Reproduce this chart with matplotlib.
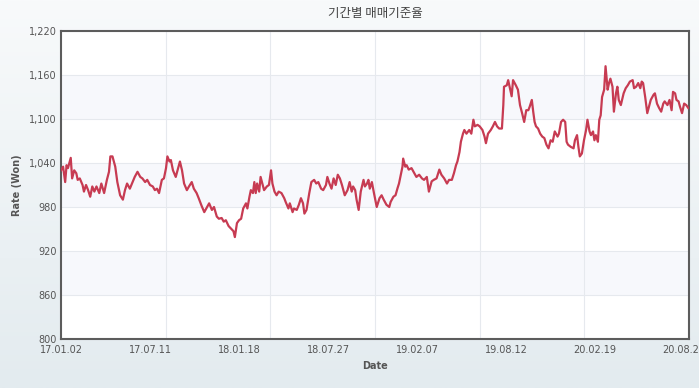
import numpy as np
import matplotlib
matplotlib.use("Agg")
import matplotlib.pyplot as plt
from matplotlib.ticker import FixedLocator, FuncFormatter

# ---- data (100 JPY / KRW trading rate) ----
day_index = [0, 3, 6, 8, 10, 14, 16, 19, 22, 24, 27, 31, 33, 36, 39, 42, 45, 48, 51, 55,
             58, 62, 66, 69, 71, 74, 78, 81, 85, 89, 92, 95, 99, 103, 106, 110, 114, 117, 121, 124,
             128, 132, 135, 138, 141, 145, 148, 151, 153, 156, 158, 161, 165, 169, 171, 174, 177, 181, 184, 188,
             191, 195, 198, 202, 206, 210, 213, 217, 220, 224, 227, 231, 234, 237, 241, 244, 248, 250, 253, 256,
             259, 262, 266, 268, 271, 273, 276, 278, 280, 282, 285, 287, 289, 292, 296, 299, 302, 304, 307, 310,
             313, 317, 321, 323, 327, 329, 333, 335, 339, 342, 345, 348, 350, 353, 357, 360, 364, 367, 370, 374,
             377, 381, 383, 386, 389, 392, 395, 398, 401, 404, 408, 412, 415, 418, 420, 423, 425, 428, 431, 435,
             437, 440, 442, 444, 447, 450, 454, 458, 461, 464, 468, 472, 474, 478, 481, 484, 486, 488, 491, 492,
             495, 497, 500, 504, 508, 511, 515, 519, 522, 526, 529, 533, 536, 540, 544, 547, 551, 555, 558, 562,
             565, 568, 570, 573, 575, 578, 580, 583, 587, 590, 593, 595, 599, 602, 606, 609, 611, 614, 618, 621,
             624, 627, 630, 634, 636, 637, 641, 643, 646, 648, 650, 654, 657, 660, 663, 666, 669, 672, 674, 677,
             679, 681, 683, 686, 689, 692, 695, 698, 701, 704, 707, 710, 714, 716, 719, 722, 725, 727, 729, 733,
             737, 739, 742, 744, 746, 749, 752, 755, 757, 760, 762, 765, 767, 769, 772, 774, 776, 778, 781, 783,
             786, 788, 790, 793, 795, 798, 800, 802, 805, 809, 812, 815, 818, 822, 824, 827, 830, 833, 835, 837,
             840, 843, 845, 848, 852, 854, 857, 860, 863, 866, 868, 872, 875, 878, 880, 883, 885, 888, 890, 893,
             896, 899, 902]
rate = [1030, 1035, 1014, 1037, 1033, 1047, 1019, 1030, 1026, 1017, 1019, 1010, 1001, 1010, 1003, 994, 1008, 1001, 1008, 999,
        1012, 999, 1017, 1028, 1049, 1049, 1035, 1014, 996, 990, 1003, 1012, 1005, 1014, 1021, 1028, 1021, 1019, 1014, 1017,
        1010, 1008, 1003, 1005, 999, 1017, 1019, 1033, 1049, 1042, 1044, 1030, 1021, 1035, 1042, 1030, 1012, 1003, 1008, 1014,
        1005, 999, 992, 982, 973, 980, 985, 976, 980, 967, 964, 965, 960, 962, 954, 951, 947, 939, 958, 962,
        964, 978, 985, 978, 994, 1003, 999, 1014, 999, 1012, 1001, 1021, 1014, 1003, 1008, 1010, 1030, 1012, 1001, 996,
        1001, 999, 992, 987, 978, 985, 973, 978, 976, 983, 992, 985, 971, 976, 999, 1014, 1017, 1012, 1014, 1005,
        1003, 1010, 1021, 1012, 1005, 1019, 1010, 1024, 1019, 1010, 996, 1003, 1014, 1001, 1008, 1003, 990, 976, 1001, 1017,
        1008, 1012, 1017, 1005, 1014, 999, 980, 992, 996, 990, 983, 980, 987, 994, 996, 1006, 1012, 1021, 1035, 1046,
        1035, 1037, 1031, 1033, 1026, 1021, 1024, 1019, 1017, 1021, 1001, 1015, 1017, 1019, 1031, 1024, 1019, 1012, 1017, 1017,
        1026, 1037, 1042, 1055, 1069, 1080, 1085, 1080, 1085, 1080, 1099, 1090, 1092, 1090, 1085, 1076, 1067, 1080, 1085, 1090,
        1096, 1090, 1087, 1087, 1119, 1144, 1146, 1153, 1140, 1131, 1153, 1146, 1140, 1119, 1108, 1096, 1112, 1112, 1117, 1126,
        1110, 1096, 1090, 1087, 1080, 1076, 1074, 1065, 1060, 1071, 1069, 1083, 1076, 1080, 1096, 1099, 1096, 1069, 1065, 1062,
        1060, 1071, 1078, 1062, 1049, 1053, 1071, 1085, 1099, 1083, 1078, 1083, 1071, 1078, 1069, 1099, 1105, 1130, 1140, 1172,
        1140, 1149, 1155, 1144, 1110, 1135, 1144, 1126, 1119, 1135, 1142, 1146, 1151, 1153, 1142, 1144, 1149, 1142, 1151, 1149,
        1130, 1108, 1115, 1126, 1133, 1135, 1121, 1115, 1110, 1121, 1124, 1119, 1126, 1112, 1137, 1135, 1126, 1124, 1117, 1108,
        1121, 1119, 1115]

n_days = 904
label_days = [0, 128, 256, 384, 512, 640, 768, 896]
date_labels = ["17.01.02", "17.07.11", "18.01.18", "18.07.27",
               "19.02.07", "19.08.12", "20.02.19", "20.08.25"]
y_ticks = [800, 860, 920, 980, 1040, 1100, 1160, 1220]
shaded_bands = [(860, 920), (980, 1040), (1100, 1160)]

title = "기간별 매매기준율"
x_title = "Date"
y_title = "Rate (Won)"

# ---- figure ----
plt.rcParams['font.family'] = ['DejaVu Sans']
W, H, DPI = 699, 388, 100
fig = plt.figure(figsize=(W / DPI, H / DPI), dpi=DPI)

# gradient page background
bg = fig.add_axes([0, 0, 1, 1], zorder=-10)
grad = np.linspace(0, 1, 256).reshape(-1, 1)
top_c = np.array([0xf8, 0xfa, 0xfb]) / 255
bot_c = np.array([0xe3, 0xeb, 0xef]) / 255
img = top_c[None, None, :] * (1 - grad[:, :, None]) + bot_c[None, None, :] * grad[:, :, None]
bg.imshow(img, aspect='auto', extent=[0, 1, 0, 1], origin='upper')
bg.set_axis_off()

left, right, top, bottom = 61, 689, 31, 339
ax = fig.add_axes([left / W, 1 - bottom / H, (right - left) / W, (bottom - top) / H])
ax.set_facecolor('white')

for lo, hi in shaded_bands:
    ax.axhspan(lo, hi, color='#f7f8fc', zorder=0, lw=0)

ax.plot(day_index, rate, color='#c73b52', lw=1.6, zorder=3, solid_joinstyle='round')

ax.set_xlim(0, n_days - 1)
ax.set_ylim(y_ticks[0], y_ticks[-1])

ax.yaxis.set_major_locator(FixedLocator(y_ticks))
ax.yaxis.set_major_formatter(FuncFormatter(lambda v, p: f"{int(v):,}"))
ax.xaxis.set_major_locator(FixedLocator(label_days))
ax.set_xticklabels(date_labels)
ax.xaxis.set_minor_locator(FixedLocator(np.linspace(0, n_days - 1, 7)))

ax.grid(False)
ax.yaxis.grid(True, which='major', color='#e6e9ee', lw=0.8, zorder=1)
ax.xaxis.grid(True, which='minor', color='#e6e9ee', lw=0.8, zorder=1)
ax.set_axisbelow(True)

ax.tick_params(axis='both', which='both', length=0, labelsize=7, colors='#555555')
ax.tick_params(axis='y', pad=3)
ax.tick_params(axis='x', pad=4)

for s in ax.spines.values():
    s.set_color('#5c5c5c')
    s.set_linewidth(1.5)

fig.text((left + right) / 2 / W, 1 - 13 / H, title, ha='center', va='center',
         fontsize=9, color='#444444', family=['Noto Sans CJK KR', 'DejaVu Sans'])
fig.text((left + right) / 2 / W, 1 - 366 / H, x_title, ha='center', va='center',
         fontsize=7, color='#555555', fontweight='bold')
fig.text(17 / W, 1 - 185 / H, y_title, ha='center', va='center', rotation=90,
         fontsize=7, color='#555555', fontweight='bold')

fig.savefig('out.png', dpi=DPI)
